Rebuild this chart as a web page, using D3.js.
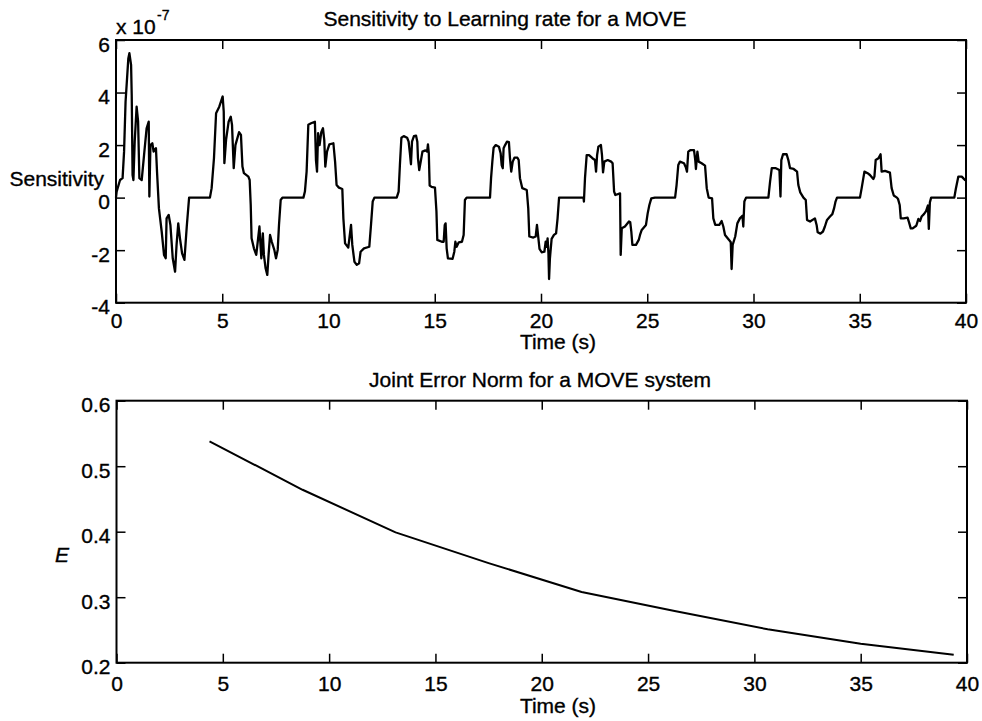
<!DOCTYPE html>
<html>
<head>
<meta charset="utf-8">
<script src="https://cdn.jsdelivr.net/npm/d3@7"></script>
<style>
  body { margin: 0; background: #fff; }
  svg text { font-family: "Liberation Sans", Arial, Helvetica, sans-serif; fill: #000; stroke: #000; stroke-width: 0.35px; }
</style>
</head>
<body>
<div id="chart"></div>
<script>
// Sensitivity trace (values in units of 1e-7)
const sensTime = [
  0, 0.03, 0.19, 0.31, 0.38, 0.45, 0.58, 0.63, 0.71, 0.74, 0.78, 0.82, 0.88, 0.97, 1.04, 1.10, 1.21, 1.32, 1.44, 1.54,
  1.57, 1.62, 1.71, 1.77, 1.88, 1.93, 2.02, 2.15, 2.26, 2.34, 2.38, 2.48, 2.56, 2.67, 2.78, 2.85, 2.93, 3.01, 3.11, 3.22,
  3.33, 3.44, 4.42, 4.50, 4.61, 4.71, 4.86, 5.02, 5.07, 5.10, 5.18, 5.30, 5.40, 5.46, 5.54, 5.62, 5.79, 5.88, 5.95, 6.02,
  6.23, 6.29, 6.34, 6.38, 6.49, 6.60, 6.68, 6.75, 6.80, 6.84, 6.91, 6.96, 7.04, 7.12, 7.18, 7.25, 7.33, 7.45, 7.53, 7.61,
  7.67, 7.75, 7.83, 8.82, 8.89, 8.97, 9.05, 9.18, 9.36, 9.41, 9.46, 9.51, 9.58, 9.66, 9.74, 9.80, 9.85, 9.93, 10.04, 10.23,
  10.31, 10.38, 10.49, 10.65, 10.70, 10.78, 10.93, 11.06, 11.12, 11.22, 11.33, 11.44, 11.51, 11.67, 11.92, 12.00, 12.08, 12.16, 13.21, 13.30,
  13.36, 13.43, 13.54, 13.70, 13.77, 13.83, 13.88, 13.93, 14.02, 14.12, 14.18, 14.21, 14.27, 14.34, 14.42, 14.56, 14.64, 14.68, 14.72, 14.76,
  14.85, 15.01, 15.08, 15.12, 15.33, 15.42, 15.47, 15.51, 15.56, 15.62, 15.84, 15.92, 15.97, 16.03, 16.13, 16.28, 16.36, 16.42, 16.50, 17.60,
  17.65, 17.71, 17.77, 17.87, 18.02, 18.10, 18.15, 18.20, 18.24, 18.31, 18.40, 18.49, 18.54, 18.60, 18.67, 18.75, 18.89, 18.95, 19.01, 19.12,
  19.33, 19.40, 19.45, 19.64, 19.75, 19.81, 19.86, 19.93, 20.03, 20.16, 20.22, 20.27, 20.31, 20.35, 20.38, 20.42, 20.50, 20.61, 20.71, 20.78,
  20.85, 22.00, 22.02, 22.07, 22.15, 22.26, 22.42, 22.54, 22.59, 22.64, 22.70, 22.82, 22.87, 22.92, 22.98, 23.14, 23.30, 23.37, 23.44, 23.50,
  23.72, 23.75, 23.80, 23.95, 24.14, 24.20, 24.25, 24.30, 24.47, 24.60, 24.66, 24.74, 24.94, 25.02, 25.10, 25.19, 25.36, 26.31, 26.38, 26.46,
  26.54, 26.73, 26.82, 26.87, 26.93, 27.04, 27.20, 27.26, 27.29, 27.36, 27.42, 27.56, 27.72, 27.80, 27.89, 28.05, 28.11, 28.20, 28.39, 28.50,
  28.58, 28.66, 28.85, 28.93, 28.97, 29.02, 29.14, 29.24, 29.36, 29.48, 29.52, 29.57, 29.65, 30.70, 30.78, 30.86, 31.05, 31.22, 31.27, 31.31,
  31.39, 31.56, 31.64, 31.72, 31.89, 32.05, 32.11, 32.20, 32.35, 32.46, 32.52, 32.66, 32.89, 32.97, 33.02, 33.15, 33.27, 33.36, 33.46, 33.60,
  33.71, 33.79, 33.86, 33.93, 35.01, 35.09, 35.22, 35.37, 35.48, 35.64, 35.69, 35.75, 35.88, 35.98, 36.03, 36.19, 36.42, 36.50, 36.60, 36.75,
  36.80, 36.88, 36.93, 37.07, 37.25, 37.32, 37.40, 37.49, 37.66, 37.76, 37.84, 37.91, 38.02, 38.12, 38.21, 38.25, 38.30, 38.36, 39.45, 39.52,
  39.64, 39.80, 39.95, 40.00
];
const sensValue = [
  0, 0.23, 0.67, 0.74, 1.75, 3.65, 5.30, 5.50, 5.05, 3.90, 0.86, 0.67, 2.13, 3.46, 2.90, 0.74, 0.67, 1.62, 2.64, 2.89,
  0.04, 2.00, 2.07, 1.75, 1.88, 0.99, -0.41, -1.29, -2.18, -2.31, -0.79, -0.66, -1.04, -2.31, -2.82, -1.80, -0.98, -1.55, -2.12, -2.37,
  -1.10, 0, 0, 0.36, 1.50, 3.21, 3.46, 3.85, 3.27, 1.31, 2.20, 2.89, 3.08, 2.77, 1.12, 2.00, 2.49, 2.39, 1.18, 0.93,
  0.80, 0.67, -0.28, -1.55, -1.93, -2.18, -1.61, -1.10, -1.80, -2.31, -1.36, -2.18, -2.69, -2.94, -2.18, -1.42, -1.68, -1.99, -2.31, -1.99,
  -1.04, -0.09, 0, 0, 0.23, 0.99, 2.77, 2.83, 2.89, 1.43, 0.99, 2.45, 2.00, 2.49, 2.64, 2.20, 1.18, 1.75, 2.03, 2.07,
  1.37, 0.48, 0.38, 0.33, -0.79, -1.74, -1.90, -1.04, -1.80, -2.44, -2.56, -2.50, -2.06, -1.93, -1.87, -1.04, -0.15, 0, 0, 0.23,
  1.24, 2.28, 2.34, 2.28, 2.13, 1.69, 1.27, 2.13, 2.34, 2.36, 2.13, 1.50, 1.05, 1.37, 1.75, 1.80, 1.75, 2.03, 1.69, 0.46,
  0.41, 0.38, -0.53, -1.61, -1.68, -1.68, -1.04, -0.98, -1.93, -2.31, -2.33, -2.06, -1.68, -1.87, -1.70, -1.68, -1.42, -0.09, 0, 0,
  0.74, 1.37, 1.90, 2.00, 1.94, 1.69, 1.24, 1.12, 1.88, 2.00, 2.13, 2.11, 1.50, 0.99, 1.37, 1.52, 1.52, 1.43, 0.74, 0.36,
  0.29, -0.41, -1.48, -1.52, -1.48, -1.04, -1.42, -1.95, -2.08, -2.06, -1.68, -1.87, -1.55, -2.12, -3.10, -2.31, -1.57, -1.42, -1.36, -0.79,
  0, 0, -0.15, 0.74, 1.62, 1.62, 1.50, 1.43, 0.99, 1.62, 1.94, 2.00, 1.62, 0.96, 1.37, 1.43, 1.37, 1.31, 0.23, 0.10,
  0.16, -2.18, -1.17, -1.10, -0.91, -0.94, -1.29, -1.80, -1.80, -1.61, -1.42, -1.23, -1.04, -0.60, -0.28, -0.03, 0, 0, 0.48, 1.24,
  1.37, 1.31, 1.14, 0.99, 1.75, 1.81, 1.81, 1.43, 1.09, 1.75, 1.37, 1.31, 1.22, 0.36, 0, -0.03, -0.79, -1.04, -1.04, -0.89,
  -1.10, -1.42, -1.61, -1.70, -2.72, -1.80, -1.48, -0.98, -0.79, -0.69, -1.10, -0.15, 0, 0, 0.61, 1.12, 1.12, 1.05, 0.04, 1.43,
  1.65, 1.65, 1.43, 1.12, 1.09, 0.99, 0.48, 0.20, 0, -0.09, -0.85, -0.91, -0.79, -1.04, -1.32, -1.37, -1.29, -1.10, -0.85, -0.72,
  -0.63, -0.41, -0.15, 0, 0, 0.36, 0.99, 0.93, 0.86, 0.71, 0.80, 1.43, 1.50, 1.65, 0.99, 1.02, 0.95, 0.36, 0.08, 0,
  -0.05, -0.28, -0.79, -0.79, -0.76, -0.94, -1.17, -1.17, -1.07, -0.81, -0.89, -0.72, -0.63, -0.51, -0.30, -1.19, -0.18, 0, 0, 0.33,
  0.80, 0.80, 0.67, 0.65
];
const sensXTicks = [0, 5, 10, 15, 20, 25, 30, 35, 40];
const sensYTicks = [-4, -2, 0, 2, 4, 6];

// Joint error norm
const errTime = [4.375, 8.75, 13.125, 17.5, 21.875, 26.25, 30.625, 35, 39.375];
const errValue = [0.538, 0.464, 0.399, 0.352, 0.308, 0.279, 0.251, 0.229, 0.212];
const errXTicks = [0, 5, 10, 15, 20, 25, 30, 35, 40];
const errYTicks = [0.2, 0.3, 0.4, 0.5, 0.6];

const W = 982, H = 721;
const FONT = 21;
const TICK = 9;

const svg = d3.select('#chart').append('svg')
  .attr('width', W).attr('height', H)
  .style('display', 'block');

function styleAxis(sel) {
  sel.select('.domain').remove();
  sel.selectAll('line').attr('stroke', '#000').attr('stroke-width', 1.5);
  sel.selectAll('text').attr('font-size', FONT).attr('fill', '#000')
    .attr('font-family', '"Liberation Sans", Arial, Helvetica, sans-serif');
}

function drawPanel(box, cfg) {
  const x = d3.scaleLinear().domain(cfg.xDomain).range([box.left, box.right]);
  const y = d3.scaleLinear().domain(cfg.yDomain).range([box.bottom, box.top]);
  const g = svg.append('g');

  // bottom axis with labels, ticks pointing inward
  g.append('g')
    .attr('transform', `translate(0,${box.bottom})`)
    .call(d3.axisBottom(x).tickValues(cfg.xTicks).tickSizeInner(-TICK).tickSizeOuter(0)
      .tickPadding(cfg.xPad).tickFormat((d) => String(d)))
    .call(styleAxis);
  // top ticks only
  g.append('g')
    .attr('transform', `translate(0,${box.top})`)
    .call(d3.axisTop(x).tickValues(cfg.xTicks).tickSizeInner(-TICK).tickSizeOuter(0).tickFormat(''))
    .call(styleAxis);
  // left axis with labels (plain hyphen minus, as in the original)
  g.append('g')
    .attr('transform', `translate(${box.left},0)`)
    .call(d3.axisLeft(y).tickValues(cfg.yTicks).tickSizeInner(-TICK).tickSizeOuter(0)
      .tickPadding(cfg.yPad).tickFormat(cfg.yFormat))
    .call(styleAxis)
    .call((s) => s.selectAll('text').attr('dy', 11));
  // right ticks only
  g.append('g')
    .attr('transform', `translate(${box.right},0)`)
    .call(d3.axisRight(y).tickValues(cfg.yTicks).tickSizeInner(-TICK).tickSizeOuter(0).tickFormat(''))
    .call(styleAxis);

  // plot box
  g.append('rect')
    .attr('x', box.left).attr('y', box.top)
    .attr('width', box.right - box.left).attr('height', box.bottom - box.top)
    .attr('fill', 'none').attr('stroke', '#000').attr('stroke-width', 2);

  const line = d3.line()
    .x((d) => x(d[0]))
    .y((d) => y(d[1]));

  g.append('path')
    .datum(d3.zip(cfg.xs, cfg.ys))
    .attr('d', line)
    .attr('fill', 'none')
    .attr('stroke', '#000')
    .attr('stroke-width', cfg.lineWidth)
    .attr('stroke-linejoin', 'round');

  return g;
}

// Top panel: sensitivity
const sensPanel = drawPanel({ left: 116, right: 966, top: 40, bottom: 302.7 }, {
  xDomain: [0, 40], yDomain: [-4, 6],
  xTicks: sensXTicks, yTicks: sensYTicks,
  xPad: 10, yPad: 6, yFormat: (d) => String(d),
  xs: sensTime, ys: sensValue, lineWidth: 2.3
});

sensPanel.append('text').attr('x', 505).attr('y', 26).attr('text-anchor', 'middle')
  .attr('font-size', FONT).text('Sensitivity to Learning rate for a MOVE');
sensPanel.append('text').attr('x', 116).attr('y', 34).attr('font-size', FONT).text('x 10');
sensPanel.append('text').attr('x', 157).attr('y', 20).attr('font-size', 14).text('-7');
sensPanel.append('text').attr('x', 104).attr('y', 186).attr('text-anchor', 'end')
  .attr('font-size', FONT).text('Sensitivity');
sensPanel.append('text').attr('x', 558).attr('y', 349).attr('text-anchor', 'middle')
  .attr('font-size', FONT).text('Time (s)');

// Bottom panel: joint error norm
const errPanel = drawPanel({ left: 116.5, right: 967, top: 400.7, bottom: 662.7 }, {
  xDomain: [0, 40], yDomain: [0.2, 0.6],
  xTicks: errXTicks, yTicks: errYTicks,
  xPad: 13, yPad: 6, yFormat: d3.format('.1f'),
  xs: errTime, ys: errValue, lineWidth: 2
});

errPanel.append('text').attr('x', 540).attr('y', 387).attr('text-anchor', 'middle')
  .attr('font-size', FONT).text('Joint Error Norm for a MOVE system');
errPanel.append('text').attr('x', 55).attr('y', 562).attr('font-size', FONT)
  .attr('font-style', 'italic').text('E');
errPanel.append('text').attr('x', 558).attr('y', 713).attr('text-anchor', 'middle')
  .attr('font-size', FONT).text('Time (s)');
</script>
</body>
</html>
